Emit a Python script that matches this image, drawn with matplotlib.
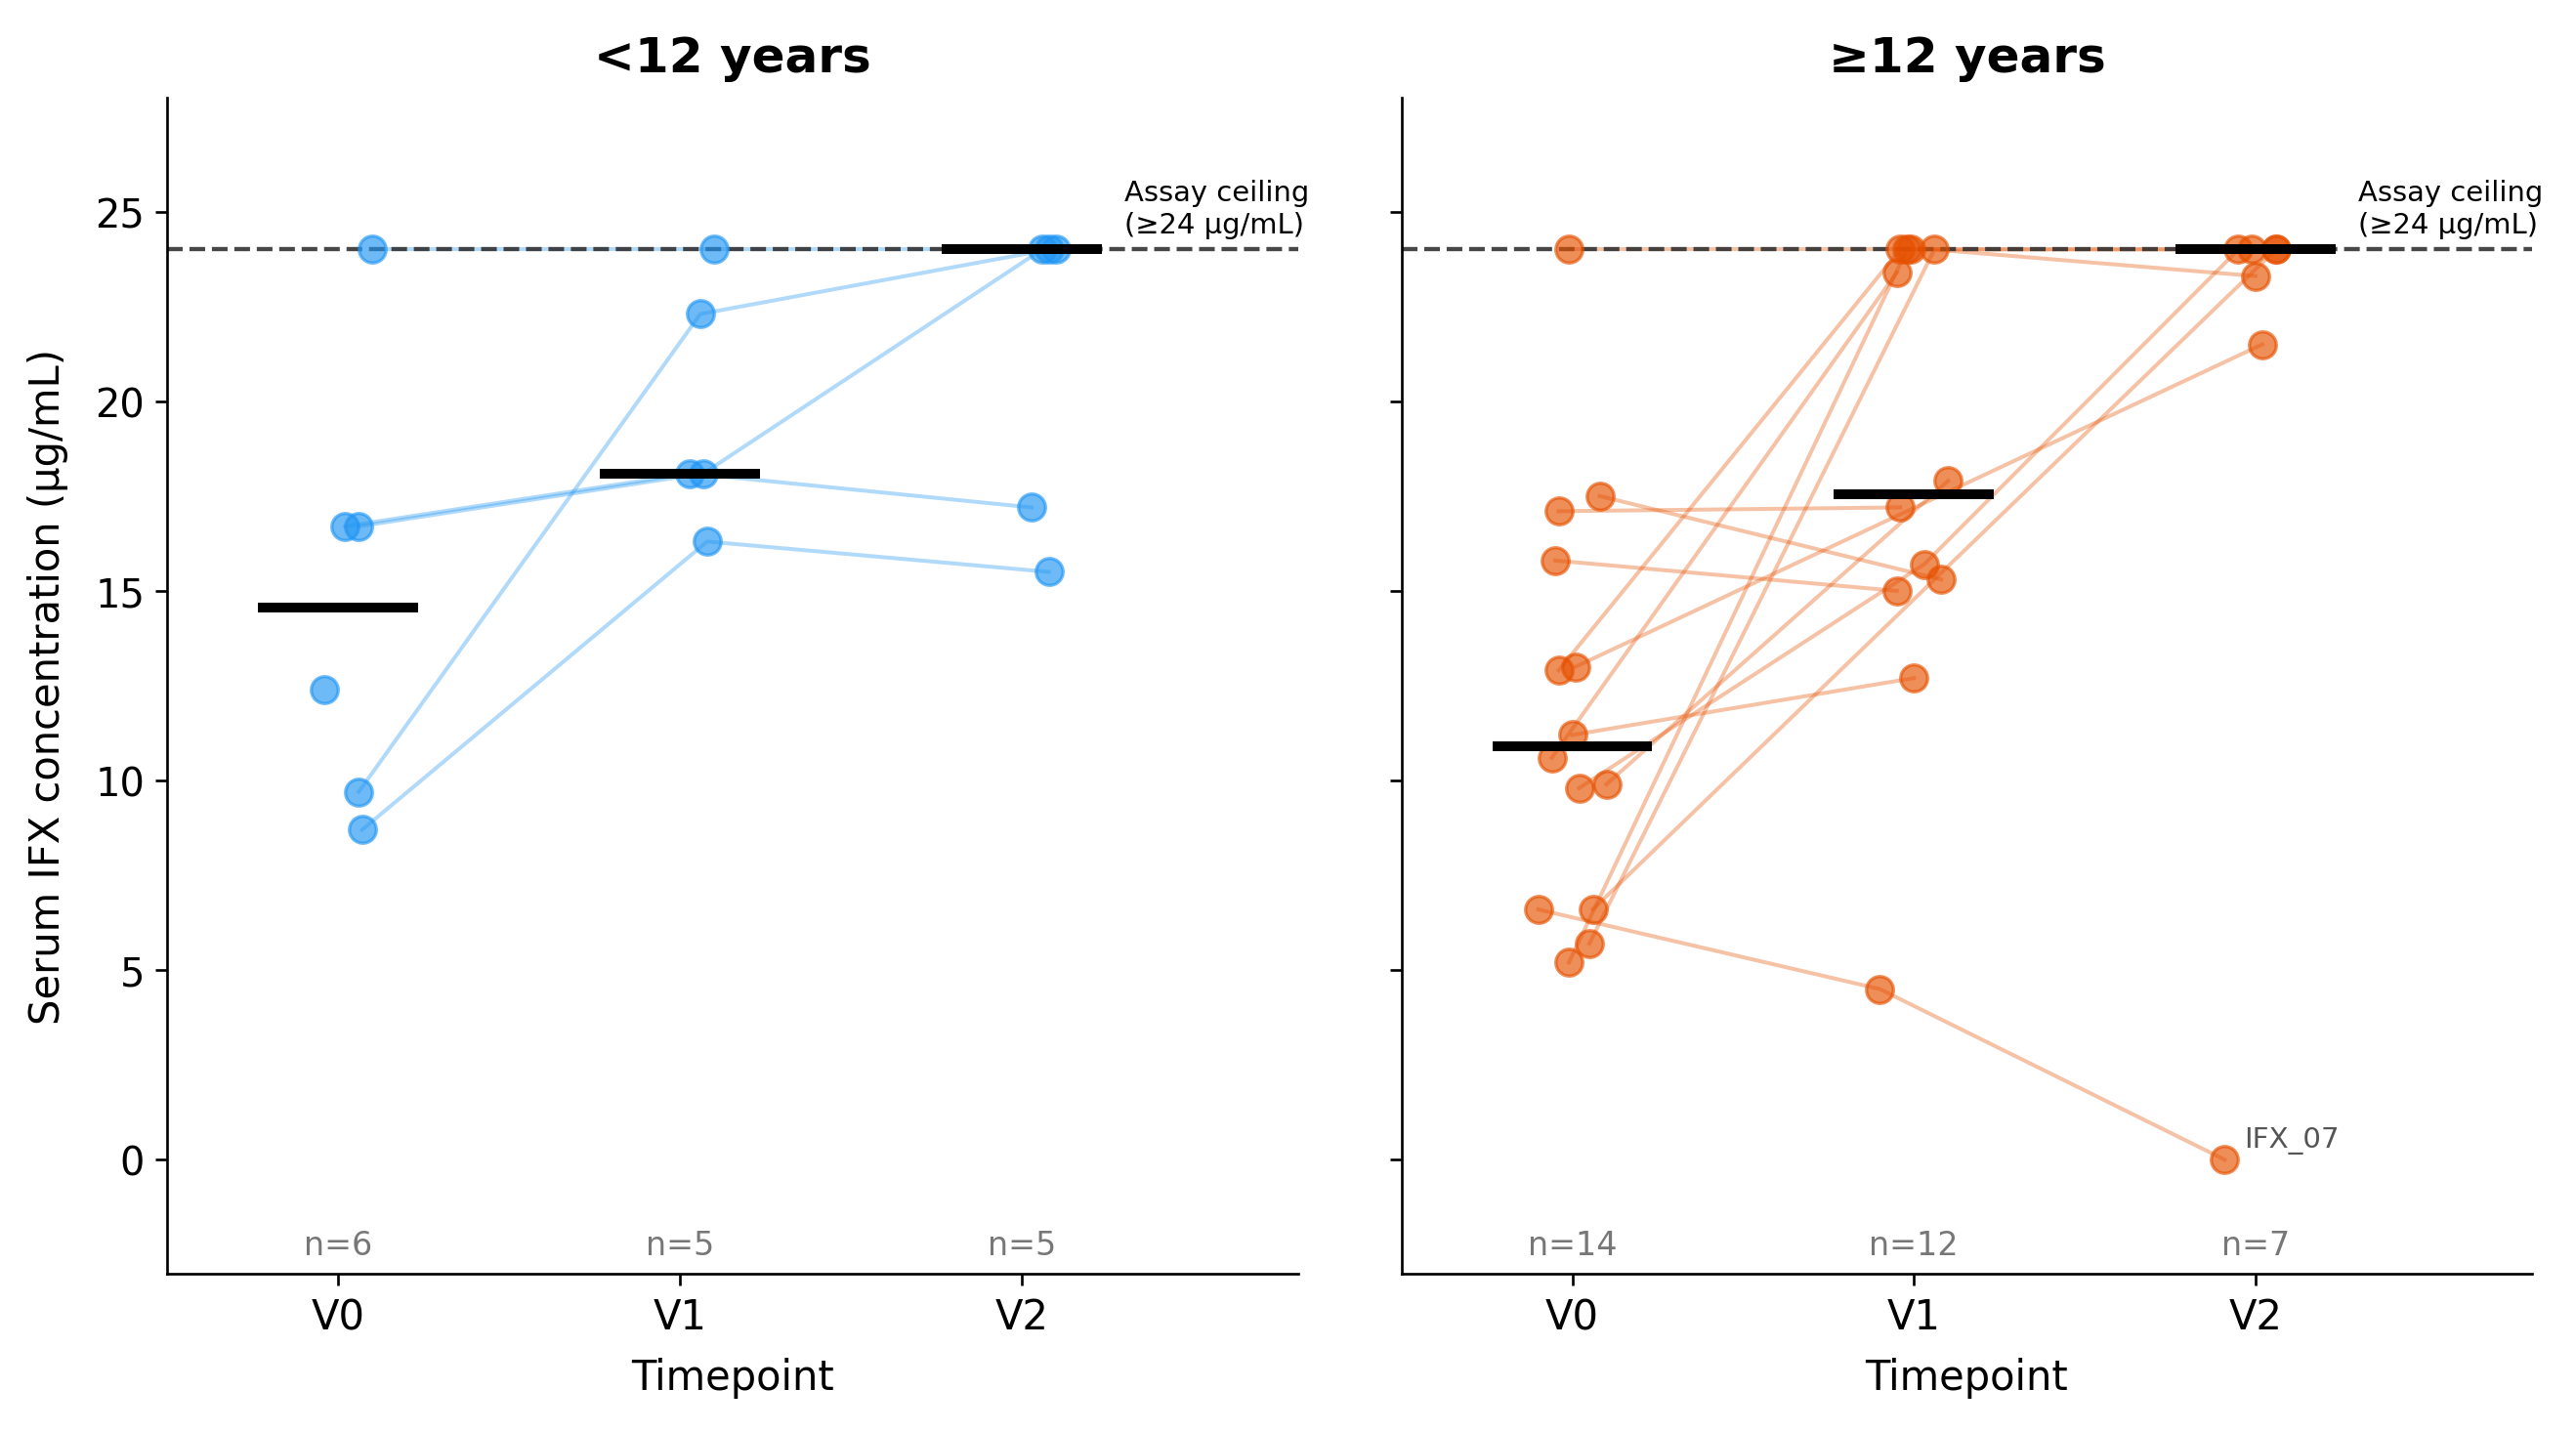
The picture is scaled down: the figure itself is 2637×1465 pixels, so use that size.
import numpy as np
import matplotlib
matplotlib.use("Agg")
import matplotlib.pyplot as plt

plt.rcParams["font.family"] = ["DejaVu Sans"]

timepoints = ["V0", "V1", "V2"]
ceiling = 24.0

# <12 years: one row per subject, values at V0, V1, V2 (nan = missing)
young_vals = [
    [24.0, 24.0, 24.0],
    [16.7, 18.1, 17.2],
    [16.7, 18.1, 24.0],
    [9.7, 22.3, 24.0],
    [8.7, 16.3, 15.5],
    [12.4, np.nan, np.nan],
]
young_jitter = [
    [0.10, 0.10, 0.10],
    [0.02, 0.03, 0.03],
    [0.06, 0.07, 0.06],
    [0.06, 0.06, 0.08],
    [0.07, 0.08, 0.08],
    [-0.04, 0.0, 0.0],
]

# >=12 years
old_ids = ["IFX_01", "IFX_02", "IFX_03", "IFX_04", "IFX_05", "IFX_06", "IFX_08",
           "IFX_09", "IFX_10", "IFX_11", "IFX_07", "IFX_12", "IFX_13", "IFX_14"]
old_vals = [
    [24.0, 24.0, 24.0],
    [17.5, 15.3, np.nan],
    [17.1, 17.2, np.nan],
    [15.8, 15.0, np.nan],
    [13.0, np.nan, 21.5],
    [12.9, 24.0, 24.0],
    [11.2, 12.7, np.nan],
    [10.6, 23.4, np.nan],
    [9.9, 17.9, np.nan],
    [9.8, 15.7, 24.0],
    [6.6, 4.5, 0.0],
    [6.6, np.nan, 24.0],
    [5.7, 24.0, 23.3],
    [5.2, 24.0, np.nan],
]
old_jitter = [
    [-0.01, -0.01, -0.01],
    [0.08, 0.08, 0.0],
    [-0.04, -0.04, 0.0],
    [-0.05, -0.05, 0.0],
    [0.01, 0.0, 0.02],
    [-0.04, -0.04, 0.06],
    [0.0, 0.0, 0.0],
    [-0.06, -0.05, 0.0],
    [0.10, 0.10, 0.0],
    [0.02, 0.03, -0.05],
    [-0.10, -0.10, -0.09],
    [0.06, 0.0, 0.06],
    [0.05, 0.06, 0.0],
    [-0.01, -0.02, 0.0],
]

groups = [
    ("<12 years", young_vals, young_jitter, "#2196F3", None),
    ("\u226512 years", old_vals, old_jitter, "#E65100", old_ids),
]

fig, axes = plt.subplots(1, 2, figsize=(10.9875, 6.1083), sharey=True)
fig.subplots_adjust(left=0.065, right=0.983, top=0.931, bottom=0.110, wspace=0.0914)

for ax, (title, vals, jit, color, ids) in zip(axes, groups):
    vals = np.array(vals, dtype=float)
    jit = np.array(jit, dtype=float)
    xs = np.arange(len(timepoints))[None, :] + jit

    for i in range(len(vals)):
        ok = ~np.isnan(vals[i])
        ax.plot(xs[i][ok], vals[i][ok], color=color, alpha=0.35, lw=1.2, zorder=2)

    for j in range(len(timepoints)):
        ok = ~np.isnan(vals[:, j])
        ax.scatter(xs[ok, j], vals[ok, j], s=68, color=color, alpha=0.65,
                   edgecolor=color, linewidth=1.0, zorder=3)
        med = np.median(vals[ok, j])
        ax.plot([j - 0.22, j + 0.22], [med, med], color="black", lw=3.0, zorder=4)
        ax.text(j, -2.25, "n={}".format(ok.sum()), ha="center", va="center",
                fontsize=10, color="#777777")

    ax.axhline(ceiling, color="#333333", ls="--", lw=1.3, alpha=0.9, zorder=2.5)
    ax.text(2.3, 24.3, "Assay ceiling\n(\u226524 \u03bcg/mL)", fontsize=8.7,
            ha="left", va="bottom", clip_on=False)

    if ids is not None:
        k = ids.index("IFX_07")
        ax.annotate("IFX_07", (xs[k, 2], vals[k, 2]), xytext=(6, 2),
                    textcoords="offset points", fontsize=8.8, color="#555555",
                    ha="left", va="bottom")

    ax.set_title(title, fontsize=15, fontweight="bold", pad=8)
    ax.set_xticks(range(len(timepoints)))
    ax.set_xticklabels(timepoints, fontsize=12.5)
    ax.set_xlim(-0.5, 2.81)
    ax.set_ylim(-3, 28)
    ax.set_yticks([0, 5, 10, 15, 20, 25])
    ax.tick_params(axis="y", labelsize=12)
    ax.set_xlabel("Timepoint", fontsize=12.5, labelpad=6)
    ax.spines["top"].set_visible(False)
    ax.spines["right"].set_visible(False)

axes[0].set_ylabel("Serum IFX concentration (\u00b5g/mL)", fontsize=12.5, labelpad=8)

fig.savefig("out.png", dpi=240)
